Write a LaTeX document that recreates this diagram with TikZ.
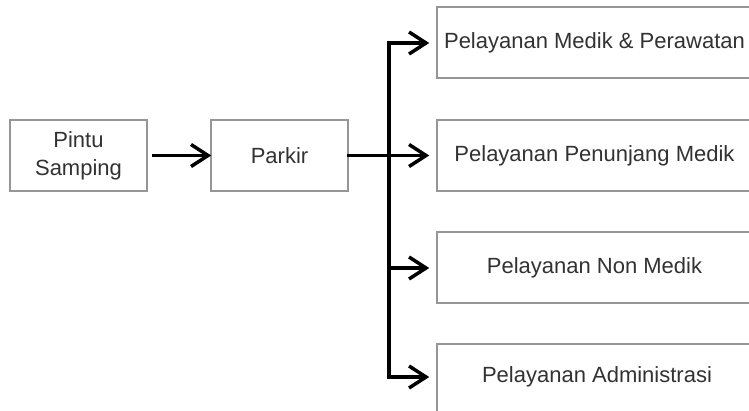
\documentclass[tikz,border=0pt]{standalone}
\usepackage{fontspec}
\setmainfont{Liberation Sans}
\usetikzlibrary{arrows.meta}
\definecolor{boxgray}{RGB}{150,150,150}
\definecolor{txtgray}{RGB}{50,50,50}
\tikzset{
  box/.style={draw=boxgray, line width=1.5pt, fill=white, text=txtgray,
    minimum height=71pt, inner sep=0pt, align=center,
    font=\fontsize{22}{28}\selectfont},
  smallbox/.style={box, minimum width=137pt},
  bigbox/.style={box, minimum width=315pt},
  conn/.style={line width=3.5pt, line cap=rect, line join=miter},
  arr/.style={conn, -{Straight Barb[length=17pt,width=22pt,line width=3.5pt]}},
}
\begin{document}
\begin{tikzpicture}[x=1pt,y=-1pt]
\clip (0,0) rectangle (749,410);
\fill[white] (0,0) rectangle (749,410);
\node[smallbox] (ps) at (78.5,155.5) {Pintu\\Samping};
\node[smallbox] (pk) at (279.5,155.5) {Parkir};
\node[bigbox] (b1) at (594.5,42.5) {Pelayanan Medik \& Perawatan};
\node[bigbox] (b2) at (594.5,155.5) {Pelayanan Penunjang Medik};
\node[bigbox] (b3) at (594.5,267.5) {Pelayanan Non Medik};
\node[bigbox, minimum height=71pt] (b4) at (594.5,379.5) {};
\node[text=txtgray, font=\fontsize{22}{28}\selectfont] (b4t) at (597,377) {Pelayanan Administrasi};
\coordinate (j1) at (389,43);
\coordinate (j3) at (389,268);
\coordinate (j4) at (389,377);
\draw[arr, shorten <=6pt, shorten >=-1pt] (ps.east) -- (pk.west);
\draw[arr, shorten >=7pt] (pk.east) -- (b2.west);
\draw[arr, shorten >=7pt] (j4) -- (j1) -- (j1 -| b1.west);
\draw[arr, shorten >=7pt] (j3) -- (j3 -| b3.west);
\draw[arr, shorten >=7pt] (j4) -- (j4 -| b4.west);
\end{tikzpicture}
\end{document}
